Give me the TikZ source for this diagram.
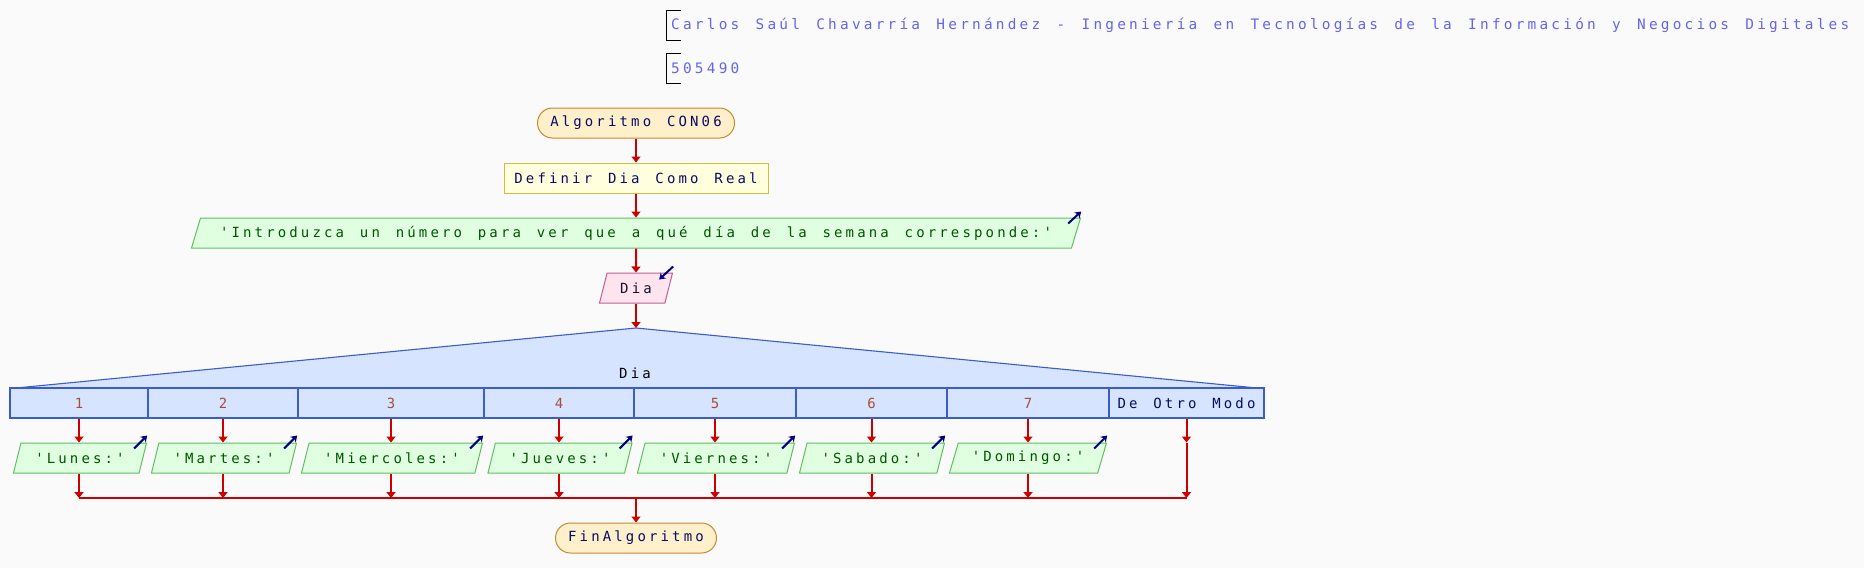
\documentclass[tikz,border=0pt]{standalone}
\usepackage{fontspec}
\setmonofont{DejaVu Sans Mono}[LetterSpace=22.4, WordSpace=1.372]
\usetikzlibrary{shapes.geometric,arrows.meta,positioning}
\definecolor{fondo}{RGB}{250,250,250}
\definecolor{flecha}{RGB}{204,0,0}
\definecolor{icono}{RGB}{0,0,128}
\definecolor{titulo}{RGB}{100,100,240}
\definecolor{tinta}{RGB}{10,10,100}
\definecolor{verde}{RGB}{0,85,0}
\definecolor{marron}{RGB}{165,80,50}
\definecolor{selborde}{RGB}{58,92,204}
\definecolor{selfondo}{RGB}{214,228,255}
\tikzset{
  texto/.style={font=\ttfamily\fontsize{14}{14}\selectfont},
  terminal/.style={texto, line width=1pt, draw={rgb,255:red,200;green,136;blue,48}, fill={rgb,255:red,255;green,240;blue,204},
    rounded corners=15pt, minimum height=30pt, text=tinta},
  definir/.style={texto, line width=1pt, draw={rgb,255:red,200;green,192;blue,64}, fill={rgb,255:red,255;green,255;blue,221},
    minimum height=30pt, text=tinta},
  paralelo/.style={texto, line width=1pt, trapezium, trapezium left angle=66.57, trapezium right angle=113.43,
    trapezium stretches body, minimum height=30pt, inner xsep=0pt},
  escribir/.style={paralelo, draw={rgb,255:red,96;green,192;blue,96}, fill={rgb,255:red,224;green,255;blue,224}, text=verde},
  leer/.style={paralelo, draw={rgb,255:red,192;green,96;blue,144}, fill={rgb,255:red,255;green,228;blue,240},
    text={rgb,255:red,20;green,20;blue,40}},
  caso/.style={texto, line width=1.3pt, draw=selborde, fill=selfondo, minimum height=30pt, inner xsep=0pt, text=marron},
  flujo/.style={draw=flecha, line width=2pt, -{Triangle[width=9pt,length=6pt]}},
  icono/.style={draw=icono, line width=2pt, -{Stealth[width=8pt,length=6pt]}}
}
\begin{document}
\begin{tikzpicture}[x=1pt,y=-1pt]
  \useasboundingbox[fill=fondo] (0,0) rectangle (1864,568);
  \draw (681,10) -- (666,10) -- (666,40) -- (681,40);
  \draw (681,53) -- (666,53) -- (666,83) -- (681,83);
  \node[anchor=west, inner sep=0pt, text=titulo, font=\ttfamily\fontsize{14.4}{14.4}\selectfont] (autor) at (671,25)
    {Carlos Saúl Chavarría Hernández - Ingeniería en Tecnologías de la Información y Negocios Digitales};
  \node[anchor=west, inner sep=0pt, text=titulo, font=\ttfamily\fontsize{14.4}{14.4}\selectfont] (matricula) at (671,68) {505490};

  \node[terminal, minimum width=197pt] (inicio) at (636,123) {Algoritmo CON06};
  \node[definir, minimum width=264pt] (definir) at (636,178) {Definir Dia Como Real};
  \node[escribir, minimum width=889pt] (pregunta) at (636,233)
    {'Introduzca un número para ver que a qué día de la semana corresponde:'};
  \node[leer, minimum width=73pt] (dia) at (636,288) {Dia};

  % selector
  \coordinate (cima) at (636,328);
  \filldraw[line width=1.1pt, draw=selborde, fill=selfondo] (16,388) -- (cima) -- (1257,388) -- cycle;
  \node[texto, text=black] (sel) at (635,373) {Dia};
  \node[caso, minimum width=138pt] (c1) at (79,403) {1};
  \node[caso, minimum width=150pt] (c2) at (223,403) {2};
  \node[caso, minimum width=186pt] (c3) at (391,403) {3};
  \node[caso, minimum width=150pt] (c4) at (559,403) {4};
  \node[caso, minimum width=162pt] (c5) at (715,403) {5};
  \node[caso, minimum width=151pt] (c6) at (871.5,403) {6};
  \node[caso, minimum width=162pt] (c7) at (1028,403) {7};
  \node[caso, minimum width=155pt, text=tinta] (c8) at (1186.5,403) {De Otro Modo};

  \node[escribir, minimum width=133pt] (e1) at (80,458) {'Lunes:'};
  \node[escribir, minimum width=145pt] (e2) at (224,458) {'Martes:'};
  \node[escribir, minimum width=181pt] (e3) at (392,458) {'Miercoles:'};
  \node[escribir, minimum width=144pt] (e4) at (560,458) {'Jueves:'};
  \node[escribir, minimum width=157pt] (e5) at (716,458) {'Viernes:'};
  \node[escribir, minimum width=145pt] (e6) at (872,458) {'Sabado:'};
  \node[escribir, minimum width=157pt] (e7) at (1028,458) {'Domingo:'};

  \node[terminal, minimum width=161pt] (fin) at (636,538) {FinAlgoritmo};
  \coordinate (union) at (636,498);

  \begin{scope}[flujo]
    \draw (inicio) -- (definir);
    \draw (definir) -- (pregunta);
    \draw (pregunta) -- (dia);
    \draw (dia) -- (cima);
    \draw (c1.south) -- (c1.south |- e1.north);
    \draw (c2.south) -- (c2.south |- e2.north);
    \draw (c3.south) -- (c3.south |- e3.north);
    \draw (c4.south) -- (c4.south |- e4.north);
    \draw (c5.south) -- (c5.south |- e5.north);
    \draw (c6.south) -- (c6.south |- e6.north);
    \draw (c7.south) -- (c7.south |- e7.north);
    \draw (c8.south) -- (c8.south |- e7.north);
    \draw (c8.south |- e7.north) -- (c8.south |- union);
    \draw (c1.south |- e1.south) -- (c1.south |- union);
    \draw (c2.south |- e2.south) -- (c2.south |- union);
    \draw (c3.south |- e3.south) -- (c3.south |- union);
    \draw (c4.south |- e4.south) -- (c4.south |- union);
    \draw (c5.south |- e5.south) -- (c5.south |- union);
    \draw (c6.south |- e6.south) -- (c6.south |- union);
    \draw (c7.south |- e7.south) -- (c7.south |- union);
    \draw (union) -- (fin);
  \end{scope}
  \draw[draw=flecha, line width=2pt] (c1.south |- union) -- (c8.south |- union);

  \begin{scope}[icono]
    \draw ([shift={(-13pt,-6pt)}]pregunta.top right corner) -- ([shift={(0pt,6pt)}]pregunta.top right corner);
    \draw ([shift={(0pt,6pt)}]dia.top right corner) -- ([shift={(-14pt,-7pt)}]dia.top right corner);
    \draw ([shift={(-13pt,-6pt)}]e1.top right corner) -- ([shift={(0pt,7pt)}]e1.top right corner);
    \draw ([shift={(-13pt,-6pt)}]e2.top right corner) -- ([shift={(0pt,7pt)}]e2.top right corner);
    \draw ([shift={(-13pt,-6pt)}]e3.top right corner) -- ([shift={(0pt,7pt)}]e3.top right corner);
    \draw ([shift={(-13pt,-6pt)}]e4.top right corner) -- ([shift={(0pt,7pt)}]e4.top right corner);
    \draw ([shift={(-13pt,-6pt)}]e5.top right corner) -- ([shift={(0pt,7pt)}]e5.top right corner);
    \draw ([shift={(-13pt,-6pt)}]e6.top right corner) -- ([shift={(0pt,7pt)}]e6.top right corner);
    \draw ([shift={(-13pt,-6pt)}]e7.top right corner) -- ([shift={(0pt,7pt)}]e7.top right corner);
  \end{scope}
\end{tikzpicture}
\end{document}
